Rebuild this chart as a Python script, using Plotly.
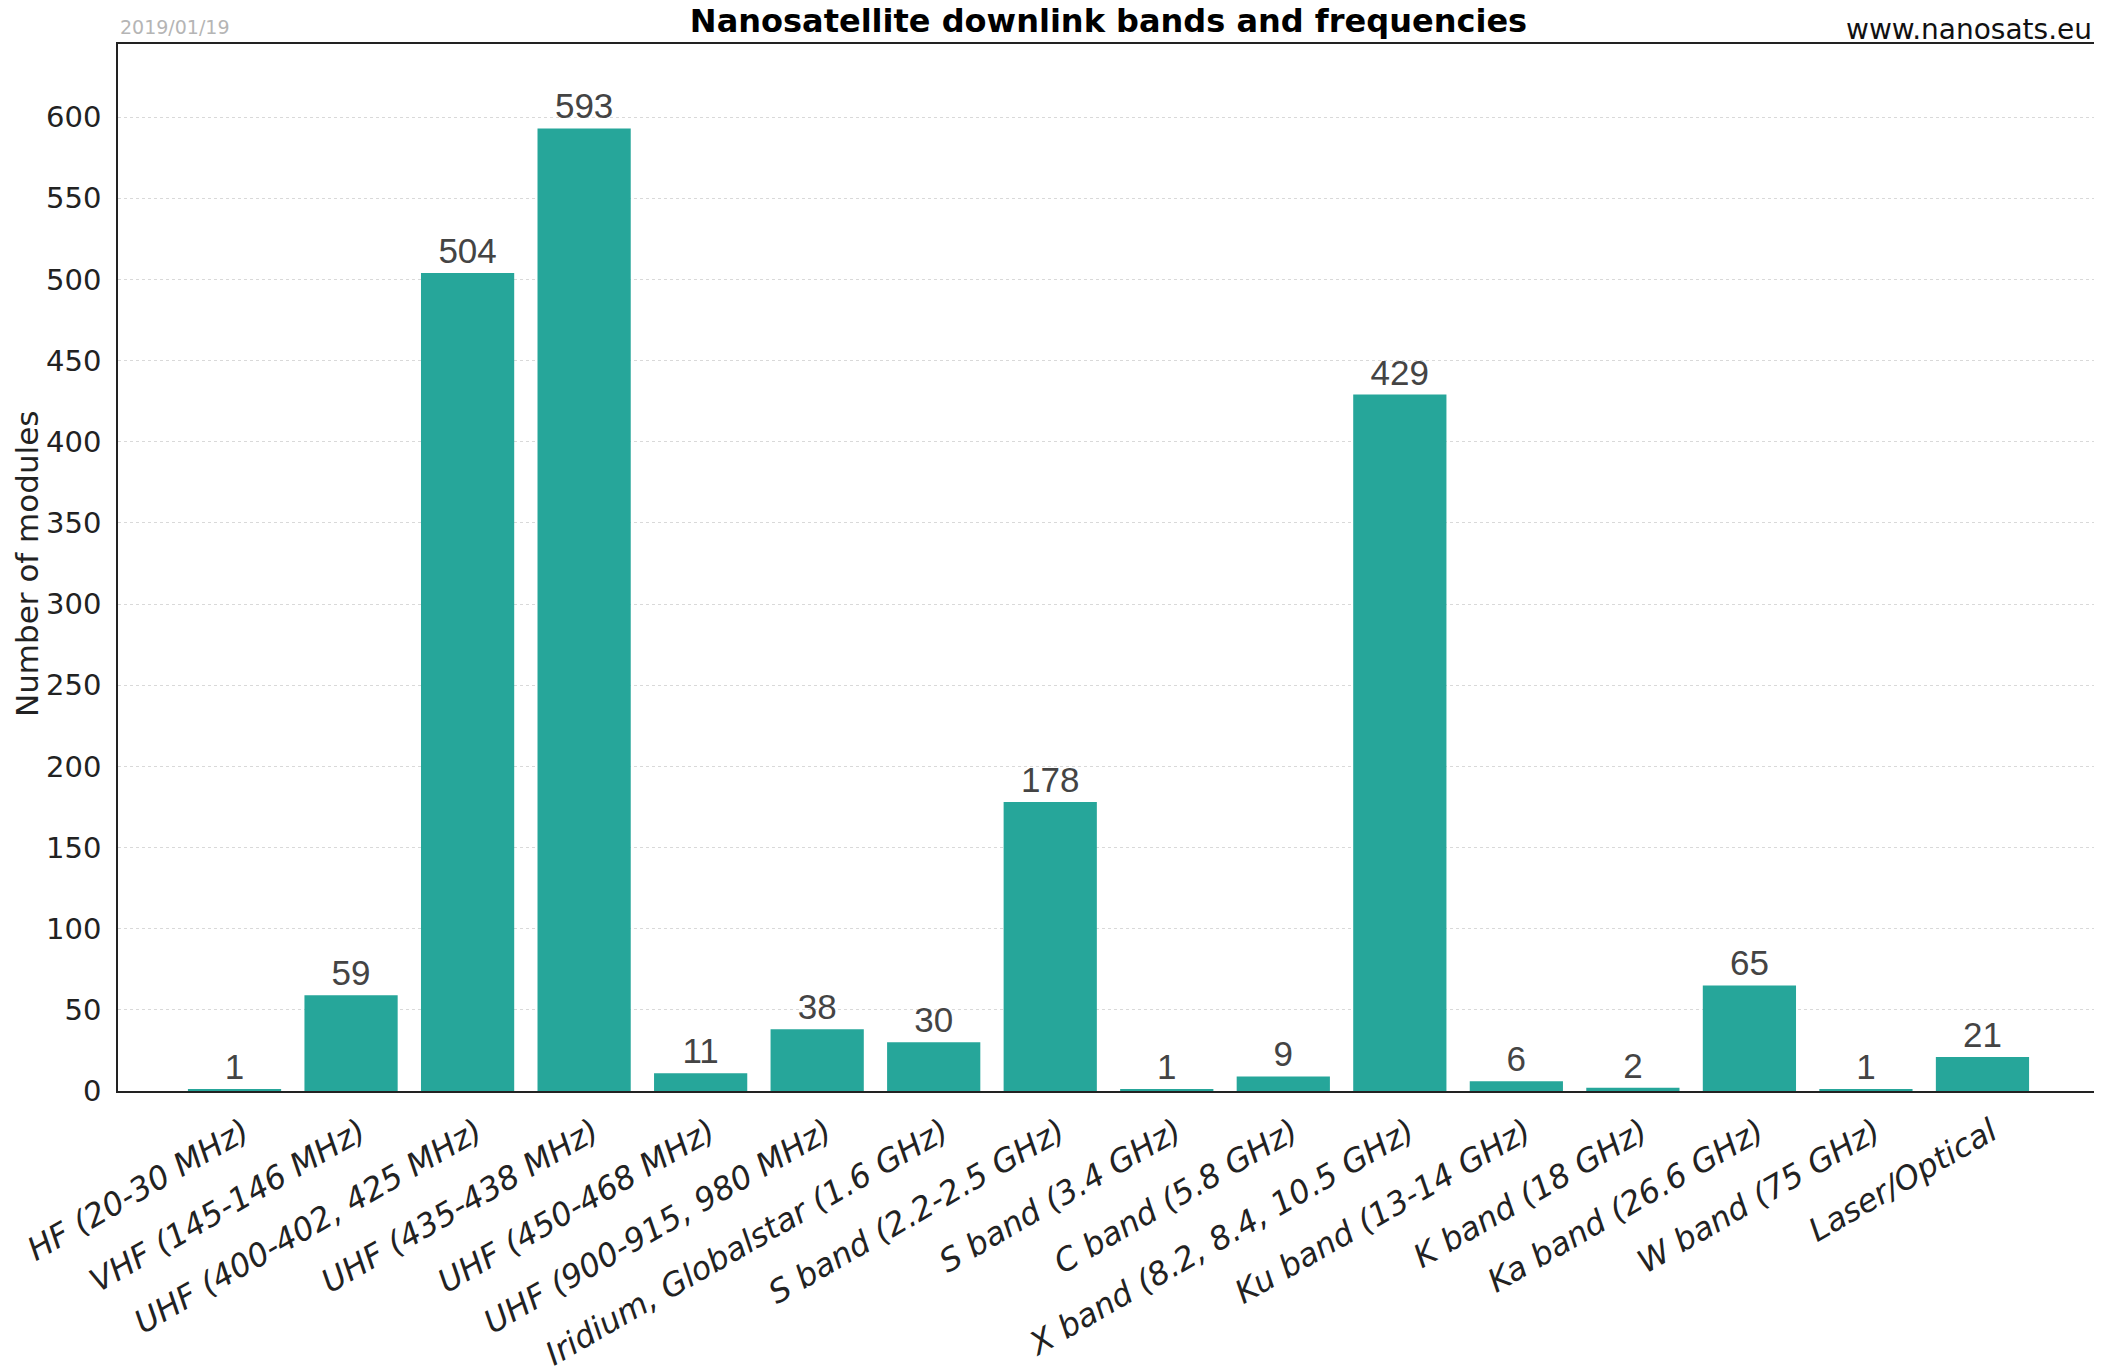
import plotly.graph_objects as go

categories = [
    "HF (20-30 MHz)", "VHF (145-146 MHz)", "UHF (400-402, 425 MHz)",
    "UHF (435-438 MHz)", "UHF (450-468 MHz)", "UHF (900-915, 980 MHz)",
    "Iridium, Globalstar (1.6 GHz)", "S band (2.2-2.5 GHz)", "S band (3.4 GHz)",
    "C band (5.8 GHz)", "X band (8.2, 8.4, 10.5 GHz)", "Ku band (13-14 GHz)",
    "K band (18 GHz)", "Ka band (26.6 GHz)", "W band (75 GHz)", "Laser/Optical",
]
values = [1, 59, 504, 593, 11, 38, 30, 178, 1, 9, 429, 6, 2, 65, 1, 21]
y_ticks = [0, 50, 100, 150, 200, 250, 300, 350, 400, 450, 500, 550, 600]

title_text = "Nanosatellite downlink bands and frequencies"
date_text = "2019/01/19"
url_text = "www.nanosats.eu"
y_title = "Number of modules"

BASE_FONT = "DejaVu Sans"
# the page body has an 8px default margin; size the figure so it fits the window
OFF = 8
W, H = 2102 - OFF, 1369 - OFF
L, T = 118 - OFF, 44 - OFF
R = W - (2099 - OFF)
B = H - (1091 - OFF)
plot_h = H - T - B
plot_w = W - L - R

fig = go.Figure(go.Bar(
    x=categories,
    y=values,
    marker=dict(color="#26A69A", line=dict(width=0)),
    text=[str(v) for v in values],
    textposition="outside",
    textfont=dict(family="Liberation Sans, Arial", size=35, color="#444444"),
    cliponaxis=False,
    hoverinfo="x+y",
))

fig.update_layout(
    width=W, height=H,
    margin=dict(l=L, r=R, t=T, b=B, pad=0, autoexpand=False),
    paper_bgcolor="white",
    plot_bgcolor="white",
    bargap=0.2,
    showlegend=False,
    font=dict(family=BASE_FONT, color="#222222"),
    title=dict(
        text="<b>" + title_text + "</b>",
        font=dict(family=BASE_FONT, size=32, color="#000000"),
        x=0.5, xref="paper", xanchor="center",
        y=1, yref="container", yanchor="top",
        pad=dict(t=2, b=0),
    ),
    xaxis=dict(
        type="category",
        range=[-1, len(categories)],
        tickangle=-30,
        tickfont=dict(family=BASE_FONT, size=32, color="#222222", style="italic"),
        showgrid=False,
        showline=True, linecolor="#222222", linewidth=1.5, mirror=True,
        ticks="", ticklabelstandoff=8, ticklabelshift=9,
        automargin=False,
        fixedrange=True,
    ),
    yaxis=dict(
        range=[0, 645],
        tickvals=y_ticks,
        tickfont=dict(family=BASE_FONT, size=29, color="#222222"),
        showgrid=True, gridcolor="#d9d9d9", gridwidth=1, griddash="dot",
        zeroline=False,
        showline=True, linecolor="#222222", linewidth=1.5, mirror=True,
        ticks="", ticklabelstandoff=9,
        automargin=False,
    ),
    annotations=[
        dict(text=y_title, xref="paper", yref="paper",
             x=-L / plot_w, y=(1091 - 564) / plot_h,
             xanchor="left", yanchor="middle", textangle=-90, showarrow=False,
             borderpad=0,
             font=dict(family=BASE_FONT, size=31, color="#222222")),
        dict(text=date_text, xref="paper", yref="paper", x=0, y=1 + 17 / plot_h,
             xanchor="left", yanchor="middle", showarrow=False,
             font=dict(family=BASE_FONT, size=19, color="#b5b5b5")),
        dict(text=url_text, xref="paper", yref="paper", x=(2094 - 118) / plot_w, y=1 + 15 / plot_h,
             xanchor="right", yanchor="middle", showarrow=False,
             font=dict(family=BASE_FONT, size=28, color="#111111")),
    ],
)

fig.write_html("out.html")
